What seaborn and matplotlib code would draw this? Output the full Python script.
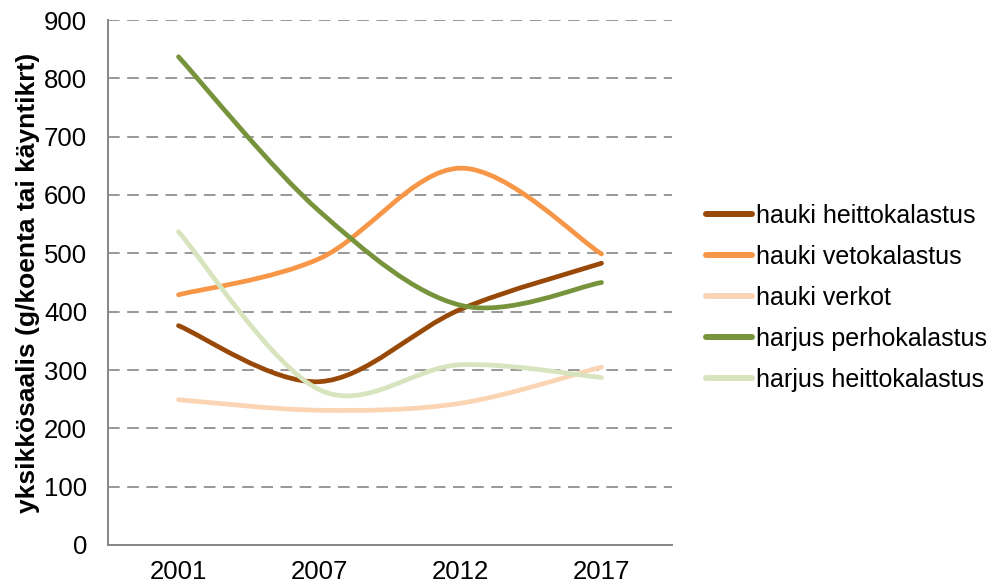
import numpy as np
import pandas as pd
import matplotlib
matplotlib.use("Agg")
import matplotlib.pyplot as plt
from matplotlib.path import Path
from matplotlib.patches import PathPatch
from matplotlib.ticker import MultipleLocator, FixedLocator
import seaborn as sns

# ---------------- DATA ----------------
years = ["2001", "2007", "2012", "2017"]
hauki_heitto = [376, 280, 404, 483]
hauki_veto = [429, 491, 646, 499]
hauki_verkot = [249, 231, 243, 305]
harjus_perho = [837, 572, 411, 450]
harjus_heitto = [537, 266, 309, 287]

series_names = ["hauki heittokalastus", "hauki vetokalastus", "hauki verkot",
                "harjus perhokalastus", "harjus heittokalastus"]
series_values = [hauki_heitto, hauki_veto, hauki_verkot, harjus_perho, harjus_heitto]
colors = ["#984807", "#F79646", "#FBD4B4", "#77933C", "#D7E4BD"]

rows = []
for name, vals in zip(series_names, series_values):
    for i, v in enumerate(vals):
        rows.append({"pos": i, "value": v, "series": name})
df = pd.DataFrame(rows)

# ---------------- STYLE ----------------
sns.set_style("white")
plt.rcParams["font.family"] = ["Liberation Sans", "DejaVu Sans"]
plt.rcParams["text.color"] = "black"
plt.rcParams["axes.labelcolor"] = "black"
grey = "#868686"
fs = 18.5


def smooth_path(xy):
    # Excel-like smoothed line: cubic Bezier with Catmull-Rom control points
    pts = np.vstack([xy[:1], xy, xy[-1:]])
    verts = [pts[1]]
    codes = [Path.MOVETO]
    for i in range(1, len(pts) - 2):
        p0, p1, p2, p3 = pts[i - 1], pts[i], pts[i + 1], pts[i + 2]
        verts += [p1 + (p2 - p0) / 6, p2 - (p3 - p1) / 6, p2]
        codes += [Path.CURVE4] * 3
    return Path(verts, codes)


fig = plt.figure(figsize=(9.91, 5.86), dpi=100)
ax = fig.add_axes([108 / 991, 41 / 586, 564 / 991, 525 / 586])

sns.lineplot(data=df, x="pos", y="value", hue="series", hue_order=series_names,
             palette=colors, linewidth=3.4, ax=ax, legend=True)

# replace the straight segments by smoothed curves
data_lines = [ln for ln in ax.get_lines() if len(ln.get_xydata()) > 1]
for z, line in enumerate(data_lines):
    xy = np.asarray(line.get_xydata(), dtype=float)
    patch = PathPatch(smooth_path(xy), facecolor="none", edgecolor=line.get_color(),
                      linewidth=3.4, capstyle="round", joinstyle="round", zorder=3 + z * 0.01)
    ax.add_patch(patch)
    line.set_visible(False)

# ---------------- AXES ----------------
ax.set_xlim(-0.5, 3.5)
ax.set_ylim(0, 900)
ax.yaxis.set_major_locator(MultipleLocator(100))
ax.set_xticks(range(len(years)))
ax.set_xticklabels(years)
ax.xaxis.set_minor_locator(FixedLocator(np.arange(-0.5, 4, 1)))
ax.tick_params(axis="x", which="major", length=0, pad=11, labelsize=fs, labelcolor="black")
ax.tick_params(axis="x", which="minor", length=5, width=1.1, color=grey, direction="out")
ax.tick_params(axis="y", which="major", length=5, width=1.1, color=grey, direction="out",
               pad=10, labelsize=fs, labelcolor="black")
ax.grid(axis="y", color=grey, linewidth=1.2, linestyle=(0, (7, 4.5)))
ax.set_axisbelow(True)
ax.set_xlabel("")
ax.set_ylabel("yksikkösaalis (g/koenta tai käyntikrt)", fontsize=19, fontweight="bold",
              labelpad=3, color="black")

sns.despine(ax=ax)
for side in ["left", "bottom"]:
    ax.spines[side].set_color(grey)
    ax.spines[side].set_linewidth(1.4)

leg = ax.legend(loc="center left", bbox_to_anchor=(706 / 991, 1 - 298 / 586),
                bbox_transform=fig.transFigure, frameon=False, fontsize=18,
                handlelength=1.85, handletextpad=0.16, labelspacing=0.68,
                borderpad=0, borderaxespad=0, title=None)
for t in leg.get_texts():
    t.set_color("black")
for h in leg.get_lines():
    h.set_linewidth(4.3)
    h.set_solid_capstyle("round")

fig.savefig("out.png", dpi=100)
